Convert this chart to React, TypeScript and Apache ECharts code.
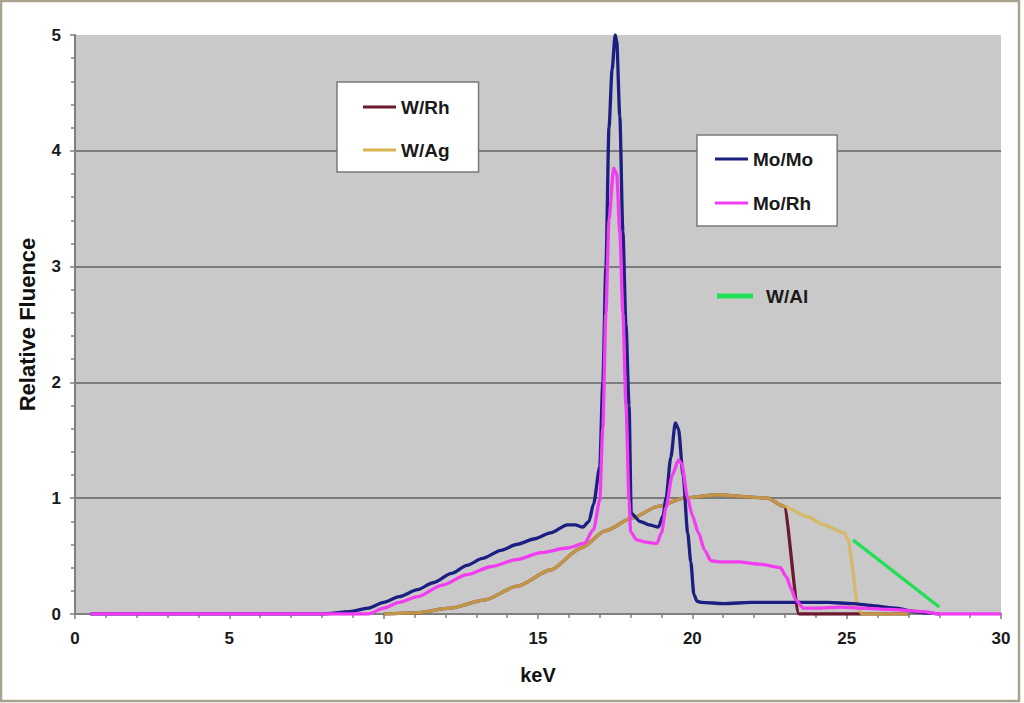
import React, { useEffect, useRef } from "react";
import * as echarts from "echarts";

// ---- data (keV, relative fluence) ----
const moMoKeV = [0.5, 8.0, 8.9, 9.5, 10.0, 10.5, 11.1, 11.6, 12.2, 12.7, 13.2, 13.8, 14.3, 14.9, 15.4, 15.95, 16.2, 16.45, 16.65, 16.8, 17.0, 17.1, 17.2, 17.3, 17.4, 17.5, 17.55, 17.65, 17.75, 17.85, 17.95, 18.02, 18.3, 18.6, 18.9, 19.05, 19.15, 19.3, 19.45, 19.55, 19.7, 19.85, 19.95, 20.05, 20.15, 20.3, 21.0, 21.9, 23.0, 24.4, 25.2, 25.9, 26.6, 27.2, 27.6, 28.0];
const moMoVal = [0, 0, 0.02, 0.05, 0.1, 0.15, 0.21, 0.27, 0.35, 0.42, 0.48, 0.55, 0.6, 0.65, 0.7, 0.77, 0.77, 0.75, 0.8, 0.95, 1.27, 2.0, 3.0, 4.2, 4.7, 5.0, 4.95, 4.3, 3.3, 2.5, 1.8, 0.87, 0.8, 0.77, 0.75, 0.85, 1.0, 1.35, 1.65, 1.6, 1.2, 0.7, 0.45, 0.17, 0.11, 0.1, 0.09, 0.1, 0.1, 0.1, 0.09, 0.07, 0.05, 0.02, 0.01, 0];

const moRhKeV = [0.5, 9.0, 9.5, 10.0, 10.5, 11.1, 11.9, 12.7, 13.5, 14.3, 15.1, 15.95, 16.5, 16.8, 17.0, 17.1, 17.2, 17.3, 17.45, 17.55, 17.65, 17.75, 17.85, 17.95, 18.0, 18.2, 18.5, 18.85, 19.0, 19.15, 19.35, 19.55, 19.65, 19.85, 20.0, 20.2, 20.4, 20.6, 20.9, 21.5, 22.2, 22.85, 23.05, 23.2, 23.35, 23.6, 24.0, 24.8, 25.5, 26.4, 27.0, 27.5, 28.0, 30.0];
const moRhVal = [0, 0, 0, 0.05, 0.1, 0.15, 0.25, 0.34, 0.41, 0.47, 0.53, 0.57, 0.61, 0.73, 0.98, 1.6, 2.6, 3.4, 3.85, 3.8, 3.3, 2.6, 1.8, 0.98, 0.71, 0.64, 0.62, 0.61, 0.7, 0.92, 1.2, 1.33, 1.3, 1.0, 0.85, 0.7, 0.55, 0.46, 0.45, 0.45, 0.43, 0.4, 0.32, 0.22, 0.12, 0.05, 0.05, 0.06, 0.05, 0.04, 0.03, 0.02, 0, 0];

const wRhKeV = [10.0, 11.0, 12.16, 13.25, 14.33, 15.4, 16.4, 17.2, 18.05, 18.9, 19.73, 20.8, 21.9, 22.43, 22.97, 23.46, 24.0, 25.0, 26.0, 27.0];
const wRhVal = [0, 0.01, 0.05, 0.12, 0.24, 0.38, 0.57, 0.72, 0.83, 0.93, 1.0, 1.03, 1.01, 1.0, 0.93, 0, 0, 0, 0, 0];

const wAgKeV = [10.0, 11.0, 12.16, 13.25, 14.33, 15.4, 16.4, 17.2, 18.05, 18.9, 19.73, 20.8, 21.9, 22.43, 22.97, 23.73, 24.27, 24.92, 25.03, 25.4, 25.5, 27.0];
const wAgVal = [0, 0.01, 0.05, 0.12, 0.24, 0.38, 0.57, 0.72, 0.83, 0.93, 1.0, 1.03, 1.01, 1.0, 0.93, 0.84, 0.77, 0.7, 0.65, 0.03, 0, 0];

const wAlKeV = [25.2, 28.0];
const wAlVal = [0.64, 0.06];

const seriesNames = ["W/Rh", "W/Ag", "Mo/Mo", "Mo/Rh", "W/Al"];
const seriesColors = ["#6b1a2e", "#d8b550", "#1c1f82", "#f23cf2", "#22e055"];

const xTicks = [0, 5, 10, 15, 20, 25, 30];
const yTicks = [0, 1, 2, 3, 4, 5];

const pairs = (xs: number[], ys: number[]) => xs.map((x, i) => [x, ys[i]]);

const FONT = "'Liberation Sans', Arial, sans-serif";

export default function App() {
  const ref = useRef<HTMLDivElement>(null);

  useEffect(() => {
    if (!ref.current) return;
    const chart = echarts.init(ref.current, undefined, { renderer: "svg" });
    const datasets = [
      pairs(wRhKeV, wRhVal),
      pairs(wAgKeV, wAgVal),
      pairs(moMoKeV, moMoVal),
      pairs(moRhKeV, moRhVal),
      pairs(wAlKeV, wAlVal),
    ];
    const legendText = { fontFamily: FONT, fontWeight: "bold", fontSize: 19, color: "#1a1a1a", lineHeight: 20 };
    chart.setOption({
      animation: false,
      backgroundColor: "#ffffff",
      graphic: [
        {
          type: "rect",
          shape: { x: 1, y: 1, width: 1018, height: 700 },
          style: { fill: "none", stroke: "#a8a38f", lineWidth: 2.5 },
          silent: true,
        },
      ],
      grid: {
        left: 75,
        right: 23,
        top: 35,
        bottom: 89,
        show: true,
        backgroundColor: "#c9c9c9",
        borderWidth: 0,
      },
      legend: [
        {
          data: ["W/Rh", "W/Ag"],
          orient: "vertical",
          left: 337,
          top: 82,
          padding: [15, 29, 12, 26],
          itemGap: 23,
          itemWidth: 33,
          itemHeight: 3,
          icon: "rect",
          backgroundColor: "#ffffff",
          borderColor: "#7a7a7a",
          borderWidth: 1.5,
          selectedMode: false,
          textStyle: legendText,
        },
        {
          data: ["Mo/Mo", "Mo/Rh"],
          orient: "vertical",
          left: 697,
          top: 135,
          padding: [14, 24, 13, 18],
          itemGap: 24,
          itemWidth: 33,
          itemHeight: 3,
          icon: "rect",
          backgroundColor: "#ffffff",
          borderColor: "#7a7a7a",
          borderWidth: 1.5,
          selectedMode: false,
          textStyle: legendText,
        },
        {
          data: ["W/Al"],
          orient: "vertical",
          left: 717,
          top: 286,
          padding: 0,
          itemWidth: 36,
          itemHeight: 5,
          icon: "rect",
          selectedMode: false,
          textStyle: { ...legendText, padding: [0, 0, 0, 8] },
        },
      ],
      xAxis: {
        type: "value",
        min: xTicks[0],
        max: xTicks[xTicks.length - 1],
        interval: 5,
        name: "keV",
        nameLocation: "middle",
        nameGap: 51,
        nameTextStyle: { fontFamily: FONT, fontWeight: "bold", fontSize: 20, color: "#111" },
        axisLine: { show: true, onZero: false, lineStyle: { color: "#7f7f7f", width: 2 } },
        axisTick: { show: true, inside: false, length: 5, lineStyle: { color: "#7f7f7f", width: 1.5 } },
        minorTick: { show: true, splitNumber: 5, length: 4, lineStyle: { color: "#7f7f7f", width: 1.5 } },
        splitLine: { show: false },
        minorSplitLine: { show: false },
        axisLabel: { margin: 16, fontFamily: FONT, fontWeight: "bold", fontSize: 17, color: "#1a1a1a" },
      },
      yAxis: {
        type: "value",
        min: yTicks[0],
        max: yTicks[yTicks.length - 1],
        interval: 1,
        name: "Relative Fluence",
        nameLocation: "middle",
        nameGap: 37,
        nameTextStyle: { fontFamily: FONT, fontWeight: "bold", fontSize: 22, color: "#111" },
        axisLine: { show: true, lineStyle: { color: "#7f7f7f", width: 2 } },
        axisTick: { show: true, inside: false, length: 5, lineStyle: { color: "#7f7f7f", width: 1.5 } },
        minorTick: { show: true, splitNumber: 5, length: 4, lineStyle: { color: "#7f7f7f", width: 1.5 } },
        splitLine: {
          show: true,
          lineStyle: {
            color: ["rgba(0,0,0,0)", "#7c7c7c", "#7c7c7c", "#7c7c7c", "#7c7c7c", "rgba(0,0,0,0)"],
            width: 2,
          },
        },
        minorSplitLine: { show: false },
        axisLabel: { margin: 14, fontFamily: FONT, fontWeight: "bold", fontSize: 17, color: "#1a1a1a" },
      },
      series: seriesNames.map((name, i) => ({
        name,
        type: "line",
        data: datasets[i],
        symbol: "none",
        showSymbol: false,
        smooth: 0.25,
        smoothMonotone: "x",
        color: seriesColors[i],
        lineStyle: { color: seriesColors[i], width: 3.3, opacity: i === 1 ? 0.8 : 1 },
        z: 2 + i,
      })),
    });
    return () => chart.dispose();
  }, []);

  return (
    <div
      ref={ref}
      style={{ position: "fixed", left: 0, top: 0, width: 1024, height: 703 }}
    />
  );
}
